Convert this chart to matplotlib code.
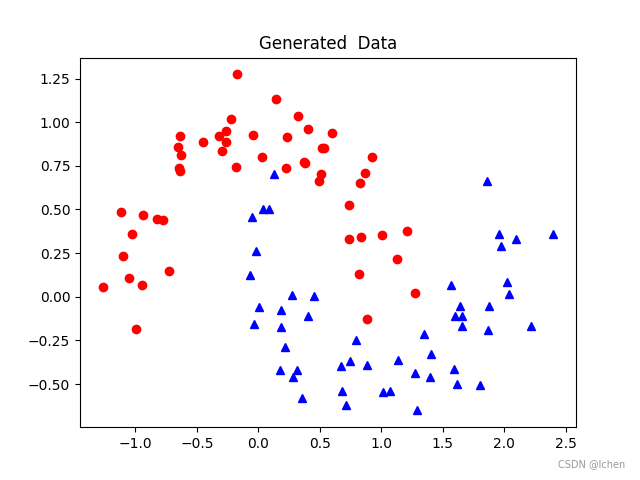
import matplotlib
matplotlib.use("Agg")
import matplotlib.pyplot as plt
import numpy as np

red_x = [-0.174, 0.145, 0.324, 0.405, -0.223, -0.263, -0.320, -0.263, -0.296, -0.451,
         -0.638, -0.655, -0.630, -0.647, -0.638, -0.182, -0.043, 0.030, 0.234, 0.226,
         0.373, 0.381, 0.515, 0.531, 0.512, 0.493, 0.596, 0.925, 0.871, 0.830,
         0.740, 0.740, 0.838, 1.009, 1.210, 1.131, 0.822, 1.276, 0.887,
         -1.120, -0.940, -0.821, -0.774, -1.030, -1.104, -0.728, -1.055, -0.948, -1.267, -0.997]
red_y = [1.274, 1.131, 1.033, 0.960, 1.016, 0.949, 0.920, 0.884, 0.838, 0.884,
         0.920, 0.857, 0.815, 0.737, 0.718, 0.741, 0.926, 0.798, 0.913, 0.735,
         0.773, 0.764, 0.850, 0.850, 0.701, 0.662, 0.936, 0.798, 0.708, 0.651,
         0.523, 0.329, 0.340, 0.353, 0.374, 0.215, 0.133, 0.024, -0.129,
         0.483, 0.466, 0.443, 0.437, 0.357, 0.236, 0.146, 0.110, 0.070, 0.058, -0.182]

blue_x = [0.128, 0.042, 0.087, -0.051, -0.019, -0.068, 0.275, 0.454, 0.006, 0.185,
          0.405, -0.038, 0.185, 0.218, 0.175, 0.316, 0.283, 0.357, 0.672, 0.748,
          0.795, 0.884, 0.680, 0.713, 1.140, 1.015, 1.069, 1.278, 1.292, 1.857,
          1.961, 2.099, 2.401, 1.972, 1.569, 2.026, 2.042, 1.637, 1.602, 1.653,
          1.661, 1.879, 1.865, 2.216, 1.349, 1.401, 1.393, 1.588, 1.613, 1.806]
blue_y = [0.706, 0.503, 0.500, 0.456, 0.265, 0.125, 0.013, 0.003, -0.060, -0.077,
          -0.112, -0.158, -0.175, -0.286, -0.421, -0.418, -0.460, -0.578, -0.395, -0.370,
          -0.245, -0.389, -0.542, -0.618, -0.364, -0.544, -0.538, -0.435, -0.651, 0.664,
          0.362, 0.331, 0.362, 0.291, 0.070, 0.087, 0.016, -0.054, -0.110, -0.110,
          -0.165, -0.054, -0.188, -0.169, -0.211, -0.326, -0.458, -0.414, -0.498, -0.506]

fig, ax = plt.subplots(figsize=(6.4, 4.8), dpi=100)
ax.plot(red_x, red_y, 'ro')
ax.plot(blue_x, blue_y, 'b^')
ax.set_title("Generated  Data")
fig.text(0.977, 0.022, "CSDN @lchen", ha='right', va='bottom', fontsize=7, color='#999999')
fig.savefig("out.png", dpi=100)
